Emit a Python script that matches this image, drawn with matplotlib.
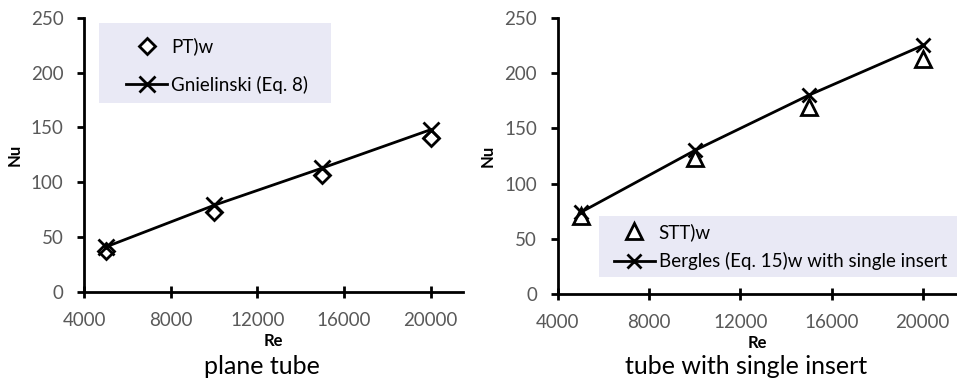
import matplotlib
matplotlib.use('Agg')
import matplotlib.pyplot as plt
from matplotlib.patches import Rectangle

plt.rcParams['font.family'] = ['Lato', 'DejaVu Sans']

# data
re_vals = [5000, 10000, 15000, 20000]
nu_pt = [37, 73, 107, 140]          # plane tube, experiment
nu_gnielinski = [41, 79, 113, 148]  # Gnielinski (Eq. 8)
nu_stt = [71, 123, 169, 213]        # single insert, experiment
nu_bergles = [74, 130, 180, 225]    # Bergles (Eq. 15)

x_ticks = [4000, 8000, 12000, 16000, 20000]
y_ticks = [0, 50, 100, 150, 200, 250]
tick_grey = '#595959'
legend_bg = '#e9e9f5'

fig = plt.figure(figsize=(9.57, 3.8), dpi=100)
ax1 = fig.add_axes([0.088, 0.232, 0.396, 0.721])
ax2 = fig.add_axes([0.583, 0.226, 0.417, 0.727])


def style_axes(ax):
    ax.set_xlim(4000, 21500)
    ax.set_ylim(0, 250)
    ax.set_xticks(x_ticks)
    ax.set_yticks(y_ticks)
    for s in ['top', 'right']:
        ax.spines[s].set_visible(False)
    for s in ['left', 'bottom']:
        ax.spines[s].set_linewidth(2)
    ax.tick_params(axis='x', direction='inout', length=9, width=2,
                   labelsize=13.5, labelcolor=tick_grey, pad=10)
    ax.tick_params(axis='y', direction='out', length=5, width=2,
                   labelsize=13.5, labelcolor=tick_grey, pad=10)
    ax.set_xlabel('Re', fontsize=12, fontweight='bold', labelpad=3)
    ax.set_ylabel('Nu', fontsize=12, fontweight='bold', labelpad=6)


# plane tube
style_axes(ax1)
ax1.plot(re_vals, nu_pt, linestyle='none', marker='D', ms=8, mfc='white',
         mec='black', mew=2, label='PT)w', zorder=3)
ax1.plot(re_vals, nu_gnielinski, color='black', lw=2, marker='x', ms=12,
         mew=2, label='Gnielinski (Eq. 8)', zorder=4)
ax1.add_patch(Rectangle((0.04, 0.69), 0.61, 0.29, transform=ax1.transAxes,
                        facecolor=legend_bg, edgecolor='none', zorder=0))
ax1.legend(loc='center left', bbox_to_anchor=(0.11, 0.826), frameon=False,
           fontsize=13.5, numpoints=1, handlelength=2.2, handletextpad=0.2,
           labelspacing=1.1, borderaxespad=0, borderpad=0)

# tube with single insert
style_axes(ax2)
ax2.plot(re_vals, nu_stt, linestyle='none', marker='^', ms=11, mfc='white',
         mec='black', mew=2, label='STT)w', zorder=3)
ax2.plot(re_vals, nu_bergles, color='black', lw=2, marker='x', ms=10,
         mew=2, label='Bergles (Eq. 15)w with single insert', zorder=4)
ax2.add_patch(Rectangle((0.103, 0.062), 0.9, 0.221, transform=ax2.transAxes,
                        facecolor=legend_bg, edgecolor='none', zorder=0,
                        clip_on=False))
ax2.legend(loc='center left', bbox_to_anchor=(0.14, 0.172), frameon=False,
           fontsize=13.5, numpoints=1, handlelength=2.2, handletextpad=0.2,
           labelspacing=0.62, borderaxespad=0, borderpad=0)

fig.text(262 / 957, 1 - 367 / 380, 'plane tube', ha='center', va='center',
         fontsize=18)
fig.text(746 / 957, 1 - 367 / 380, 'tube with single insert', ha='center',
         va='center', fontsize=18)

fig.savefig('out.png', dpi=100)
